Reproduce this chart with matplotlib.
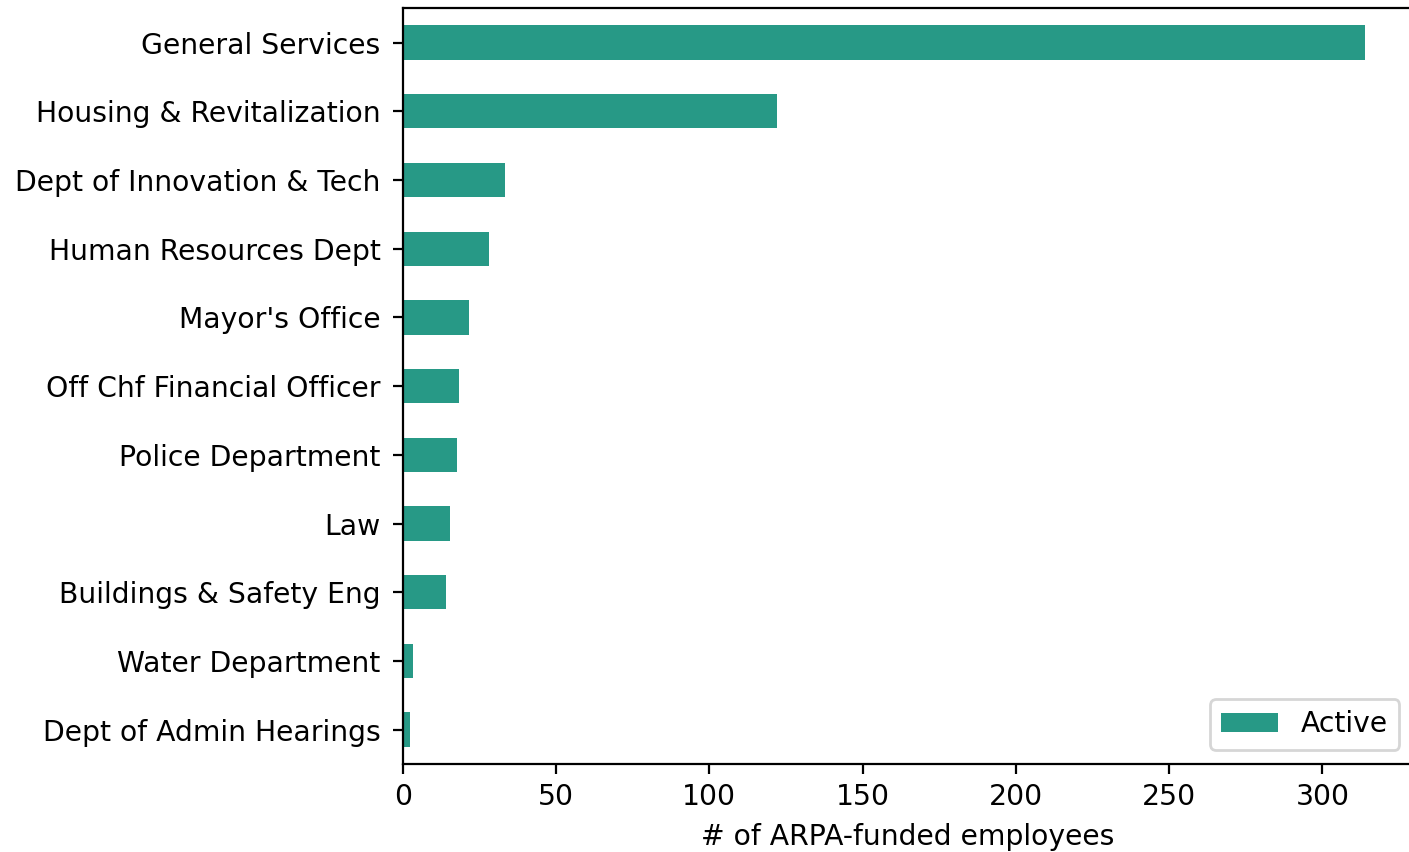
''' Horizontal bar chart of ARPA-funded employees by department
'''

import matplotlib
matplotlib.use('Agg')
import matplotlib.pyplot as plt
import numpy as np

# departments, bottom to top as they are drawn
departments = ['Dept of Admin Hearings', 'Water Department', 'Buildings & Safety Eng',
               'Law', 'Police Department', 'Off Chf Financial Officer', "Mayor's Office",
               'Human Resources Dept', 'Dept of Innovation & Tech',
               'Housing & Revitalization', 'General Services']
active = [2.3, 3.4, 14.2, 15.5, 17.6, 18.2, 21.5, 28.1, 33.3, 122, 314]

bar_color = '#279986'


def make_bar_chart(labels, values):
    plt.rcParams['font.size'] = 10.2
    fig = plt.figure(figsize=(7.045, 4.26), dpi=200)
    ax = fig.add_axes([0.2859, 0.1033, 0.7172, 0.887])

    # bars, pandas style (height 0.5)
    pos = np.arange(len(labels))
    ax.barh(pos, values, height=0.5, color=bar_color, label='Active')
    ax.set_yticks(pos, labels=labels)
    ax.set_ylim(-0.5, len(labels) - 0.5)
    ax.set_xticks([0, 50, 100, 150, 200, 250, 300])
    ax.tick_params(axis='y', pad=4.5)

    ax.set_xlabel('# of ARPA-funded employees')
    ax.legend(loc='lower right')
    fig.savefig('out.png', dpi=200)
    return


make_bar_chart(departments, active)
